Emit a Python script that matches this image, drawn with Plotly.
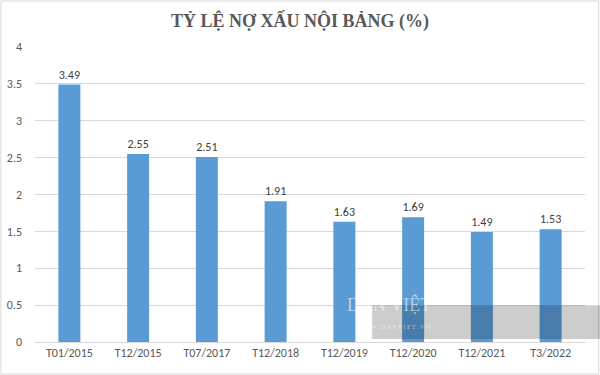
import plotly.graph_objects as go

categories = ["T01/2015", "T12/2015", "T07/2017", "T12/2018", "T12/2019", "T12/2020", "T12/2021", "T3/2022"]
values = [3.49, 2.55, 2.51, 1.91, 1.63, 1.69, 1.49, 1.53]
value_labels = ["3.49", "2.55", "2.51", "1.91", "1.63", "1.69", "1.49", "1.53"]
y_ticks = [0, 0.5, 1, 1.5, 2, 2.5, 3, 3.5, 4]
y_tick_labels = ["0", "0.5", "1", "1.5", "2", "2.5", "3", "3.5", "4"]

FONT = "Carlito, Calibri, Liberation Sans, Arial, sans-serif"

fig = go.Figure()
fig.add_trace(go.Bar(
    x=categories, y=values, text=value_labels, textposition="outside",
    textfont=dict(family=FONT, size=12, color="#404040"),
    marker=dict(color="#5B9BD5", line=dict(width=0)),
    width=0.32, cliponaxis=False, hoverinfo="skip",
))

fig.update_layout(
    width=600, height=375,
    margin=dict(l=35, r=15, t=47, b=33),
    paper_bgcolor="white", plot_bgcolor="white",
    showlegend=False,
    title=dict(text="<b>TỶ LỆ NỢ XẤU NỘI BẢNG (%)</b>", x=0.5, xanchor="center", y=0.944, yanchor="middle",
               font=dict(family="Liberation Serif, Times New Roman, serif", size=18, color="#595959")),
    xaxis=dict(showline=True, linecolor="#D9D9D9", linewidth=1, ticks="", showgrid=False, automargin=False,
               tickfont=dict(family=FONT, size=12, color="#595959")),
    yaxis=dict(range=[0, 4], tickvals=y_ticks, ticktext=y_tick_labels, showgrid=True, gridcolor="#D9D9D9",
               gridwidth=1, zeroline=False, showline=False, ticks="", ticklabelstandoff=12, automargin=False,
               tickfont=dict(family=FONT, size=12, color="#595959")),
    shapes=[
        dict(type="rect", xref="paper", yref="paper", x0=-0.062, x1=1.025, y0=-0.109, y1=1.156,
             line=dict(color="#D9D9D9", width=1), fillcolor="rgba(0,0,0,0)"),
        dict(type="rect", xref="paper", yref="paper", x0=0.613, x1=1.03, y0=0.0102, y1=0.125,
             line=dict(width=0), fillcolor="rgba(0,0,0,0.2)", layer="above"),
    ],
    annotations=[
        dict(text="DÂN VIỆT", xref="paper", yref="paper", x=0.724, y=0.085, showarrow=False,
             font=dict(family="Liberation Serif, serif", size=18, color="rgba(255,255,255,0.55)")),
        dict(text="W W W . D A N V I E T . V N", xref="paper", yref="paper", x=0.724, y=0.035, showarrow=False,
             font=dict(family="Liberation Serif, serif", size=6, color="rgba(255,255,255,0.55)")),
    ],
)

fig.write_html("out.html", config={"displayModeBar": False},
               post_script="document.body.style.margin='0';")
